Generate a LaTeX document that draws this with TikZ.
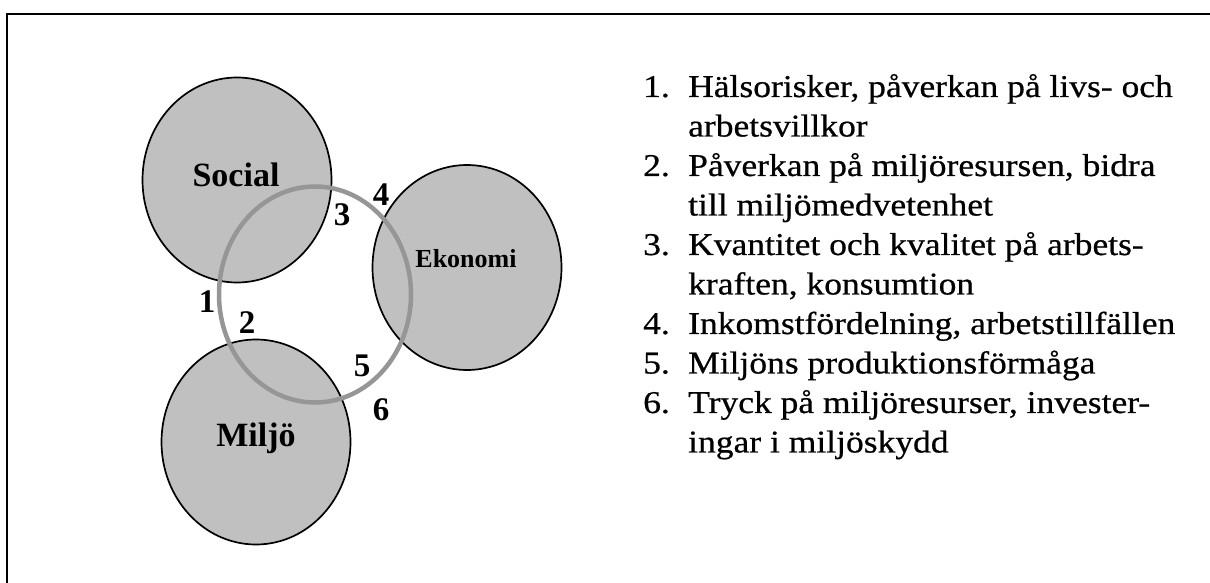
\documentclass[tikz,border=0pt]{standalone}
\usepackage{fontspec}
\setmainfont{Liberation Serif}
\newfontfamily\listfont[FakeStretch=1.12, FakeBold=0.6]{Liberation Serif}
\usetikzlibrary{shapes.geometric}
\definecolor{CircleGray}{RGB}{192, 192, 192}
\definecolor{RingGray}{RGB}{150, 150, 150}
\tikzset{
  bubble/.style={ellipse, draw=black, line width=1.7pt, fill=CircleGray, inner sep=0pt, minimum width=189pt, minimum height=205pt},
  ringshape/.style={ellipse, draw=RingGray, line width=4.5pt, inner sep=0pt, minimum width=192pt, minimum height=216pt},
  arealabel/.style={anchor=base, inner sep=0pt, font=\bfseries\fontsize{34}{40}\selectfont},
  numlabel/.style={anchor=base, inner sep=0pt, font=\bfseries\fontsize{33}{38}\selectfont}
}

\begin{document}
\begin{tikzpicture}[x=1pt, y=-1pt]
    \useasboundingbox (0,0) rectangle (1210,583);
    \draw[line width=2pt] (7,583) -- (7,13.7) -- (1210,13.7);
    \node[bubble] (social) at (237,180) {};
    \node[bubble] (ekonomi) at (467,267.5) {};
    \node[bubble] (miljo) at (256,442) {};
    \node[ringshape] (ring) at (315,294.5) {};
    \node[arealabel] (sociallabel) at (236,186.5) {Social};
    \node[arealabel, font=\bfseries\fontsize{26}{30}\selectfont] (ekonomilabel) at (466,267.5) {Ekonomi};
    \node[arealabel] (miljolabel) at (256,446.5) {Miljö};
    \node[numlabel] (n1) at (207,312) {1};
    \node[numlabel] (n2) at (247,333) {2};
    \node[numlabel] (n3) at (342,225.5) {3};
    \node[numlabel] (n4) at (381,205) {4};
    \node[numlabel] (n5) at (362,376.5) {5};
    \node[numlabel] (n6) at (381,420.5) {6};
    \node[anchor=base west, inner sep=0pt, font=\listfont\fontsize{31.7}{39.5}\selectfont] (effects) at (643,97) {%
      \begin{tabular}[t]{@{}p{45pt}@{}l@{}}
        1. & Hälsorisker, påverkan på livs- och\\
           & arbetsvillkor\\
        2. & Påverkan på miljöresursen, bidra\\
           & till miljömedvetenhet\\
        3. & Kvantitet och kvalitet på arbets-\\
           & kraften, konsumtion\\
        4. & Inkomstfördelning, arbetstillfällen\\
        5. & Miljöns produktionsförmåga\\
        6. & Tryck på miljöresurser, invester-\\
           & ingar i miljöskydd
      \end{tabular}};
\end{tikzpicture}
\end{document}
